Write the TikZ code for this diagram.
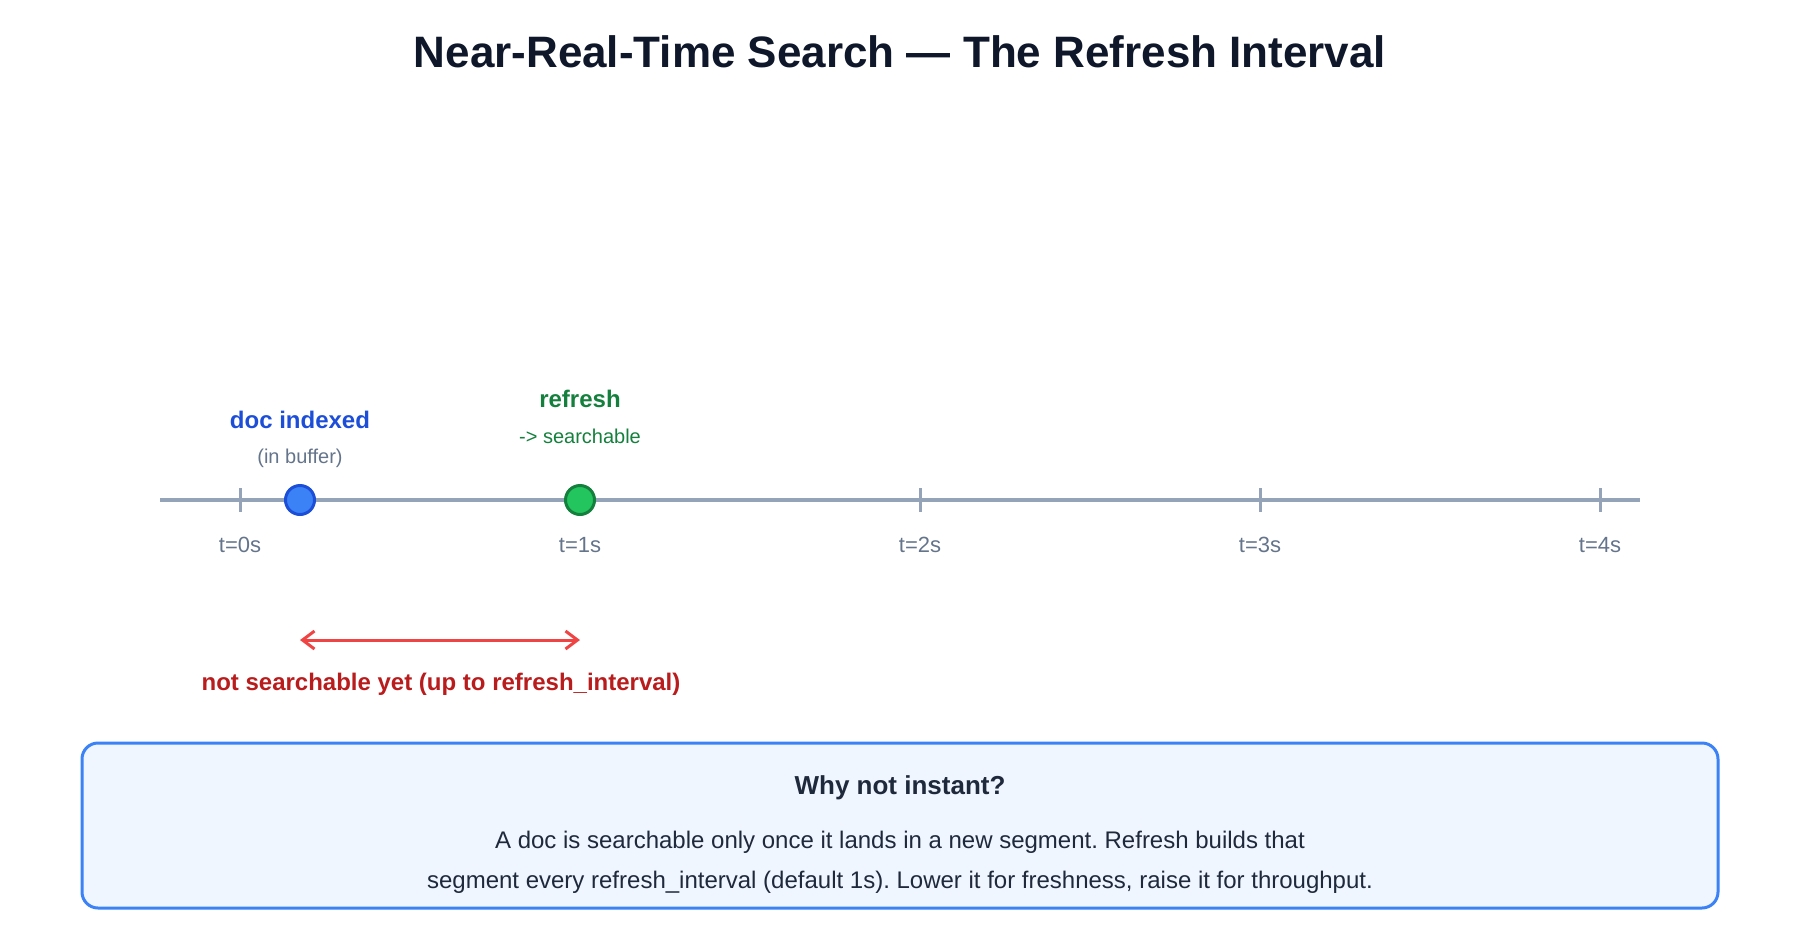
\documentclass[tikz,border=0pt]{standalone}
\usepackage{fontspec}
\setmainfont{Liberation Sans}
\usetikzlibrary{arrows.meta}
\frenchspacing

\definecolor{titleink}{HTML}{0F172A}
\definecolor{axisgray}{HTML}{94A3B8}
\definecolor{labelgray}{HTML}{64748B}
\definecolor{docblue}{HTML}{3B82F6}
\definecolor{docblueedge}{HTML}{1D4ED8}
\definecolor{refgreen}{HTML}{22C55E}
\definecolor{refgreenedge}{HTML}{15803D}
\definecolor{gapred}{HTML}{EF4444}
\definecolor{gapredtext}{HTML}{B91C1C}
\definecolor{notefill}{HTML}{EFF6FF}
\definecolor{noteink}{HTML}{1E293B}

\begin{document}
\begin{tikzpicture}[
  x=1pt, y=-1pt,
  every node/.style={inner sep=0pt},
  axistick/.style={line width=3pt, draw=axisgray},
  ticklabel/.style={anchor=base, font=\fontsize{22}{26}\selectfont, text=labelgray},
  eventdot/.style={circle, minimum size=29pt, line width=3pt},
  eventname/.style={anchor=base, font=\fontsize{24}{28}\selectfont\bfseries},
  eventnote/.style={anchor=base, font=\fontsize{20}{24}\selectfont},
  notebox/.style={draw=docblue, fill=notefill, line width=3pt,
                  rounded corners=16pt, minimum width=1636pt,
                  minimum height=165pt},
]
\useasboundingbox (0,0) rectangle (1800,940);

% Title
\node[anchor=base, font=\fontsize{44}{52}\selectfont\bfseries, text=titleink]
  (title) at (900,67) {Near-Real-Time Search --- The Refresh Interval};

% Timeline axis
\coordinate (axisL) at (160,500);
\coordinate (axisR) at (1640,500);
\draw[line width=4pt, axisgray] (axisL) -- (axisR);

% Ticks and their labels (one per second)
\foreach \i in {0,...,4} {
  \coordinate (tick\i) at (240+340*\i,500);
  \draw[axistick] (240+340*\i,488) -- (240+340*\i,512);
  \node[ticklabel] (tlabel\i) at (240+340*\i,552) {t=\i s};
}

% Events on the axis
\node[eventdot, draw=docblueedge, fill=docblue] (docdot) at (300,500) {};
\node[eventdot, draw=refgreenedge, fill=refgreen] (refdot) at (580,500) {};

\node[eventname, text=docblueedge] (docname) at (300,428) {doc indexed};
\node[eventnote, text=labelgray] (docnote) at (300,463) {(in buffer)};
\node[eventname, text=refgreenedge] (refname) at (580,407) {refresh};
\node[eventnote, text=refgreenedge] (refnote) at (580,443) {-> searchable};

% Gap between indexing and refresh
\coordinate (gapL) at (300,640);
\coordinate (gapR) at (580,640);
\draw[{Straight Barb[length=12pt,width=18pt]}-{Straight Barb[length=12pt,width=18pt]},
      line width=3pt, gapred, line cap=round] (gapL) -- (gapR);
\node[eventname, text=gapredtext] (gaptext) at (441,690)
  {not searchable yet (up to refresh\_interval)};

% Explanation box
\node[notebox] (note) at (900,825.5) {};
\node[anchor=base, font=\fontsize{26}{30}\selectfont\bfseries, text=noteink]
  (notetitle) at (900,794) {Why not instant?};
\node[align=center, font=\fontsize{24}{40}\selectfont, text=noteink]
  (notebody) at (900,862)
  {A doc is searchable only once it lands in a new segment. Refresh builds that\\
   segment every refresh\_interval (default 1s). Lower it for freshness, raise it for throughput.};

\end{tikzpicture}
\end{document}
